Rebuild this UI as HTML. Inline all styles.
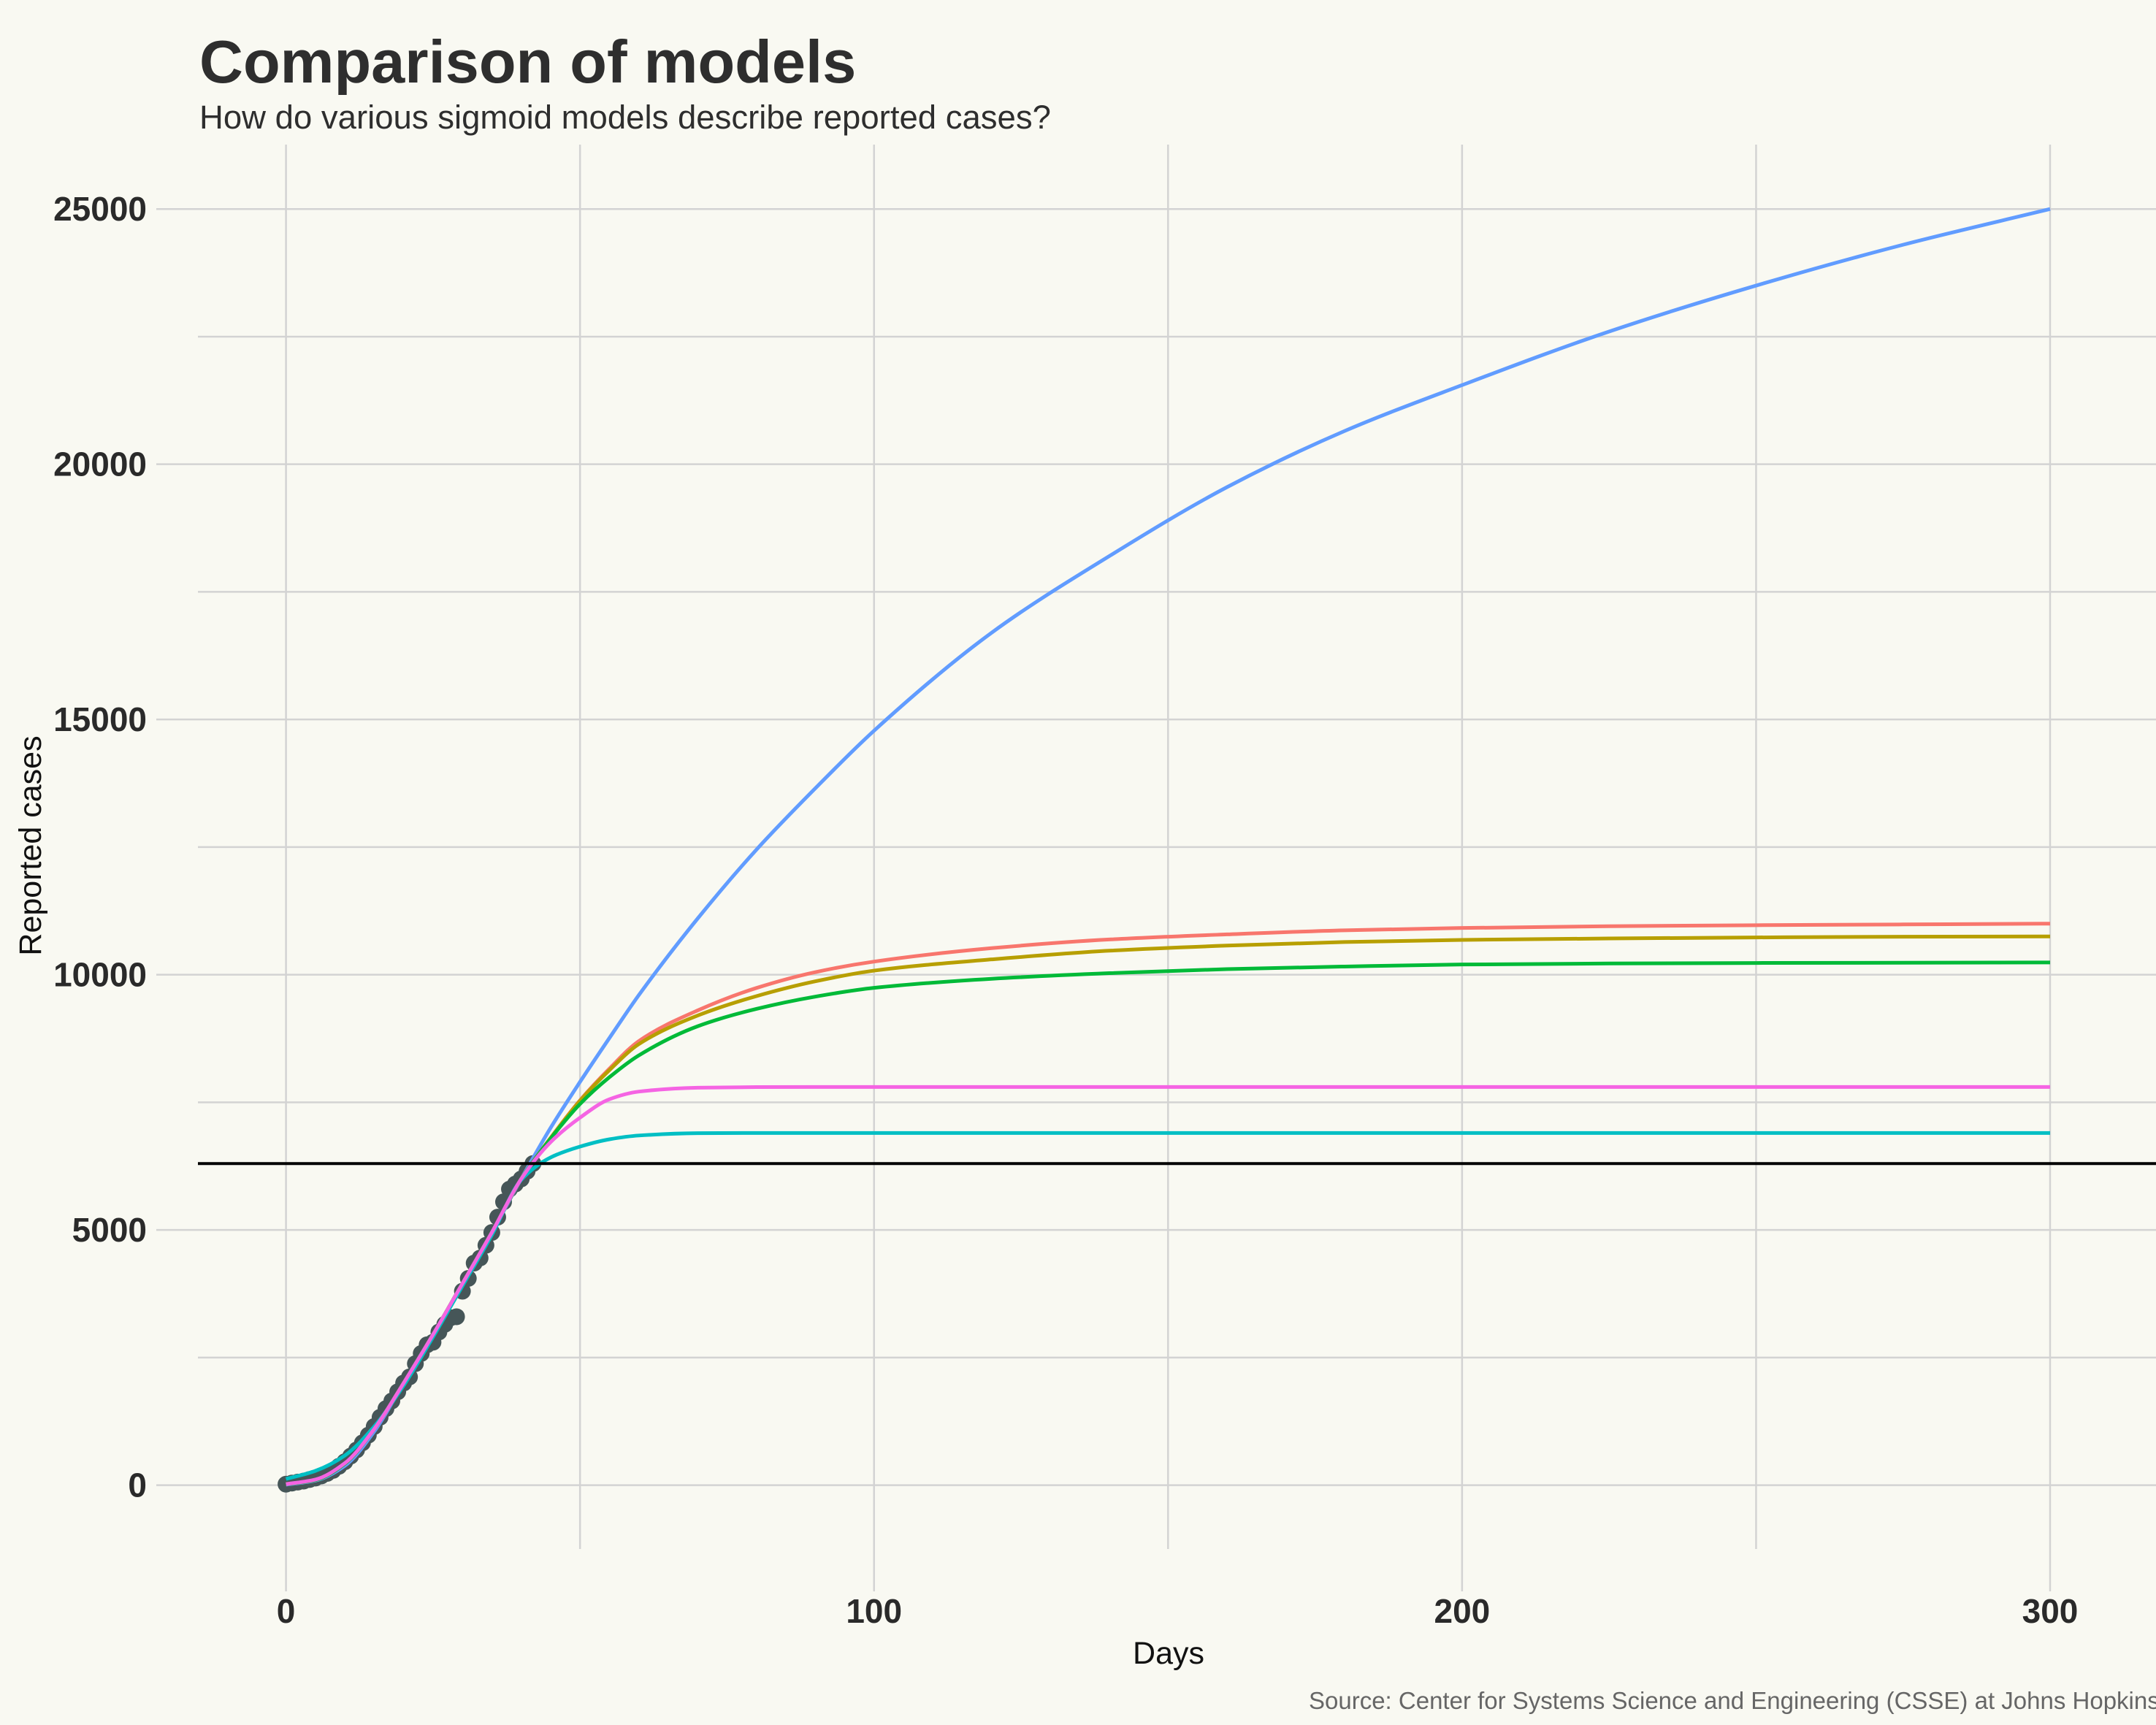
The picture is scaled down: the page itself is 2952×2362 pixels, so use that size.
<!DOCTYPE html>
<html><head><meta charset="utf-8"><style>
html,body{margin:0;padding:0;background:#f9f9f2;}
svg{display:block;font-family:"Liberation Sans",Arial,sans-serif;}
</style></head><body>
<svg id="chart" width="2952" height="2362" viewBox="0 0 2952 2362" xmlns="http://www.w3.org/2000/svg">
<rect width="2952" height="2362" fill="#f9f9f2"/>
<text x="273" y="113" font-size="83" font-weight="bold" fill="#2e2e2e">Comparison of models</text>
<text x="273" y="176" font-size="45.5" fill="#2e2e2e">How do various sigmoid models describe reported cases?</text>
<g id="grid"></g>
<g id="marks"></g>
<g id="axes"></g>
<text x="1600" y="2278" font-size="43" text-anchor="middle" fill="#111">Days</text>
<text transform="translate(56,1158) rotate(-90)" font-size="43" text-anchor="middle" fill="#111">Reported cases</text>
<text x="1792" y="2340" font-size="33" fill="#666" style="white-space:pre">Source: Center for Systems Science and Engineering (CSSE) at Johns Hopkins</text>
</svg>
<script>
const obsDays = [0,1,2,3,4,5,6,7,8,9,10,11,12,13,14,15,16,17,18,19,20,21,22,23,24,25,26,27,28,29,30,31,32,33,34,35,36,37,38,39,40,41,42];
const obsCases = [20,40,60,80,110,140,180,230,290,370,460,570,690,830,980,1150,1330,1500,1650,1830,2000,2120,2380,2580,2750,2800,3000,3150,3280,3300,3800,4050,4350,4450,4700,4950,5250,5550,5800,5900,6000,6150,6300];
const modelDays  = [0,5,10,15,20,25,30,35,40,45,50,55,60,70,80,90,100,120,140,160,180,200,225,250,275,300];
const modelRed   = [20,100,420,1100,2000,2950,3950,4950,6000,6804,7539,8159,8700,9300,9740,10050,10257,10520,10690,10790,10870,10915,10950,10970,10985,11000];
const modelGold  = [20,100,420,1100,2000,2950,3950,4950,6000,6800,7530,8130,8640,9200,9580,9870,10080,10300,10470,10570,10640,10682,10710,10730,10745,10750];
const modelGreen = [20,100,420,1100,2000,2950,3950,4950,6000,6790,7467,7992,8420,8990,9330,9570,9742,9920,10030,10110,10160,10200,10220,10230,10235,10240];
const modelBlue  = [10,90,380,1050,2000,2950,3950,4950,6000,7000,7900,8760,9600,11100,12450,13650,14780,16700,18200,19550,20650,21550,22600,23500,24300,25000];
const modelPink  = [20,110,430,1100,2000,2950,3950,4950,6000,6720,7200,7560,7710,7787,7798,7800,7800,7800,7800,7800,7800,7800,7800,7800,7800,7800];
const modelTeal  = [120,280,580,1150,1950,2900,3900,4900,5980,6420,6633,6776,6850,6895,6900,6900,6900,6900,6900,6900,6900,6900,6900,6900,6900,6900];
const refLine = 6300;
const xTicks = [0,100,200,300];
const xMinor = [50,150,250];
const yTicks = [0,5000,10000,15000,20000,25000];
const yMinor = [2500,7500,12500,17500,22500];

const NS = "http://www.w3.org/2000/svg";
const x = d => 391.6 + (d/300)*(2807-391.6);
const y = v => 2033.6 - (v/25000)*(2033.6-286.2);
function mk(tag, attrs, parent){const e=document.createElementNS(NS,tag);for(const k in attrs)e.setAttribute(k,attrs[k]);parent.appendChild(e);return e;}
const grid=document.getElementById('grid'), marks=document.getElementById('marks'), axes=document.getElementById('axes');
const gc="#d3d3d3";
xMinor.forEach(d=>{const l=mk('line',{x1:x(d),x2:x(d),y1:198,y2:2121,stroke:gc,'stroke-width':2.5},grid);

});
xTicks.forEach(d=>{const l=mk('line',{x1:x(d),x2:x(d),y1:198,y2:2179,stroke:gc,'stroke-width':2.5},grid);


const t=mk('text',{x:x(d),y:2222,'font-size':46,'font-weight':'bold','text-anchor':'middle',fill:'#2a2a2a'},axes);t.textContent=d;

});
yMinor.forEach(v=>{const l=mk('line',{x1:271,x2:2952,y1:y(v),y2:y(v),stroke:gc,'stroke-width':2.5},grid);

});
yTicks.forEach(v=>{const l=mk('line',{x1:214,x2:2952,y1:y(v),y2:y(v),stroke:gc,'stroke-width':2.5},grid);


const t=mk('text',{x:201,y:y(v)+16,'font-size':46,'font-weight':'bold','text-anchor':'end',fill:'#2a2a2a'},axes);t.textContent=v;

});
obsDays.forEach((d,i)=>{const c=mk('circle',{cx:x(d),cy:y(obsCases[i]),r:11.5,fill:'#465658'},marks);

});
function pathFor(vals){
  const px=modelDays.map(x), py=vals.map(y), n=px.length;
  const dx=[],s=[];
  for(let i=0;i<n-1;i++){dx.push(px[i+1]-px[i]);s.push((py[i+1]-py[i])/dx[i]);}
  const m=new Array(n);
  m[0]=s[0];m[n-1]=s[n-2];
  for(let i=1;i<n-1;i++){
    if(s[i-1]*s[i]<=0)m[i]=0;
    else{const w1=2*dx[i]+dx[i-1],w2=dx[i]+2*dx[i-1];m[i]=(w1+w2)/(w1/s[i-1]+w2/s[i]);}
  }
  let d=`M${px[0]},${py[0]}`;
  for(let i=0;i<n-1;i++){
    const h=dx[i]/3;
    d+=` C${px[i]+h},${py[i]+m[i]*h} ${px[i+1]-h},${py[i+1]-m[i+1]*h} ${px[i+1]},${py[i+1]}`;
  }
  return d;
}
const series=[[modelBlue,'#619CFF','blue-model-line'],[modelRed,'#F8766D','red-model-line'],[modelGold,'#B79F00','gold-model-line'],[modelGreen,'#00BA38','green-model-line'],[modelTeal,'#00BFC4','teal-model-line'],[modelPink,'#F564E3','pink-model-line']];
series.forEach(s=>{const e=mk('path',{d:pathFor(s[0]),fill:'none',stroke:s[1],'stroke-width':5},marks);

});
const h=mk('line',{x1:271,x2:2952,y1:y(refLine),y2:y(refLine),stroke:'#000','stroke-width':4},marks);


</script>
</body></html>
